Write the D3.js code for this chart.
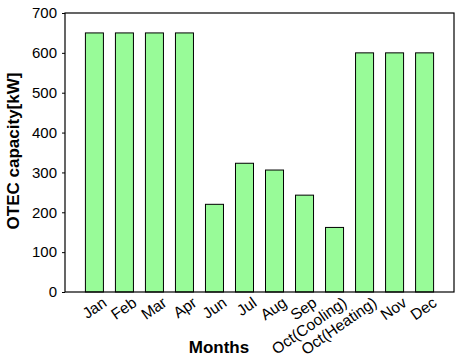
<!DOCTYPE html>
<html><head><meta charset="utf-8">
<script src="https://cdn.jsdelivr.net/npm/d3@7"></script>
<style>body{margin:0;background:#fff}svg{display:block}text{font-family:"Liberation Sans",Arial,sans-serif}</style>
</head><body>
<svg id="c" width="463" height="359"></svg>
<script>
const categories = ["Jan","Feb","Mar","Apr","Jun","Jul","Aug","Sep","Oct(Cooling)","Oct(Heating)","Nov","Dec"];
const capacity = [650,650,650,650,220,323,306,243,162,600,600,600];
const yTicks = [0,100,200,300,400,500,600,700];

const svg = d3.select("#c");
const L = 65, R = 454, T = 13, B = 292;
const x = d3.scaleBand().domain(categories).range([L, R]).paddingInner(0.4).paddingOuter(0.68);
const y = d3.scaleLinear().domain([0, 700]).range([B, T]);

svg.selectAll("rect.bar").data(categories).enter().append("rect")
  .attr("class","bar")
  .attr("x", d => x(d)).attr("width", x.bandwidth())
  .attr("y", (d,i) => y(capacity[i])).attr("height", (d,i) => B - y(capacity[i]))
  .attr("fill", "#98fb98").attr("stroke", "#000").attr("stroke-width", 1);

// frame
svg.append("rect").attr("x", L).attr("y", T).attr("width", R - L).attr("height", B - T)
  .attr("fill","none").attr("stroke","#000").attr("stroke-width",1.2);

const yAxis = d3.axisLeft(y).tickValues(yTicks).tickSize(3).tickPadding(5).tickFormat(d3.format("d"));
const gy = svg.append("g").attr("transform", `translate(${L},0)`).call(yAxis);
gy.select(".domain").remove();
gy.selectAll("text").attr("font-size", 15).attr("fill","#000").style("font-family","'Liberation Sans', Arial, sans-serif");

const xAxis = d3.axisBottom(x).tickSize(0).tickPadding(0);
const gx = svg.append("g").attr("transform", `translate(0,${B})`).call(xAxis);
gx.select(".domain").remove();
gx.selectAll("text")
  .attr("font-size", 15.5).attr("fill","#000").style("font-family","'Liberation Sans', Arial, sans-serif")
  .attr("text-anchor","end").attr("y", 0).attr("dy", "0.71em")
  .attr("transform","translate(7,4) rotate(-35)");

svg.append("text").attr("x", 219).attr("y", 353).attr("text-anchor","middle")
  .attr("font-size", 17).attr("font-weight","bold").text("Months");
svg.append("text").attr("transform","translate(19,151) rotate(-90)").attr("text-anchor","middle")
  .attr("font-size", 17).attr("font-weight","bold").text("OTEC capacity[kW]");
</script>
</body></html>
